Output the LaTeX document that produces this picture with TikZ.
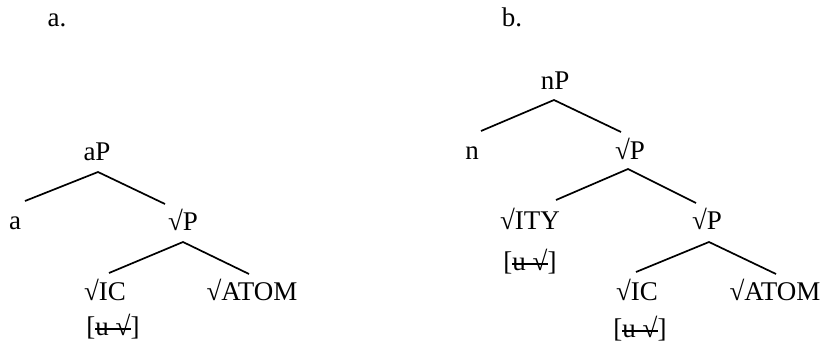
\documentclass[tikz,border=0pt]{standalone}
\usepackage{fontspec}
\setmainfont{Liberation Serif}
\newcommand{\strk}[1]{\setbox0\hbox{#1}\rlap{\rule[0.2em]{\wd0}{0.075em}}\box0}
\begin{document}
\begin{tikzpicture}[x=1pt,y=-1pt,
  lbl/.style={anchor=base,inner sep=0pt,font=\fontsize{27}{32}\selectfont},
  edge/.style={line width=1.7pt}]
\useasboundingbox (0,0) rectangle (824,345);
% labels
\node[lbl] (la) at (57,27) {a.};
\node[lbl] (lb) at (512,27) {b.};
% tree a
\node[lbl] (aP) at (97,160) {aP};
\node[lbl] (a) at (15,229) {a};
\node[lbl] (rPa) at (183,230) {√P};
\node[lbl] (ICa) at (105,300) {√IC};
\node[lbl] (ATOMa) at (252,300) {√ATOM};
\node[lbl] (fa) at (113,335) {[\strk{u √}]};
\coordinate (aP-j) at (98,172);
\coordinate (a-j) at (25,201);
\coordinate (rPa-t) at (165,204);
\coordinate (rPa-j) at (183,242);
\coordinate (ICa-t) at (109,273);
\coordinate (ATOMa-t) at (249,274);
\draw[edge] (a-j) -- (aP-j) -- (rPa-t);
\draw[edge] (ICa-t) -- (rPa-j) -- (ATOMa-t);
% tree b
\node[lbl] (nP) at (555,89) {nP};
\node[lbl] (n) at (472,159) {n};
\node[lbl] (rPb) at (630,159) {√P};
\node[lbl] (ITY) at (530,229) {√ITY};
\node[lbl] (fITY) at (530,270) {[\strk{u √}]};
\node[lbl] (rPc) at (707,229) {√P};
\node[lbl] (ICb) at (637,300) {√IC};
\node[lbl] (ATOMb) at (775,300) {√ATOM};
\node[lbl] (fb) at (640,337) {[\strk{u √}]};
\coordinate (nP-j) at (554,100);
\coordinate (n-t) at (481,131);
\coordinate (rPb-t) at (621,132);
\coordinate (rPb-j) at (628,169);
\coordinate (ITY-t) at (556,200);
\coordinate (rPc-t) at (696,203);
\coordinate (rPc-j) at (709,242);
\coordinate (ICb-t) at (636,272);
\coordinate (ATOMb-t) at (776,274);
\draw[edge] (n-t) -- (nP-j) -- (rPb-t);
\draw[edge] (ITY-t) -- (rPb-j) -- (rPc-t);
\draw[edge] (ICb-t) -- (rPc-j) -- (ATOMb-t);
\end{tikzpicture}
\end{document}
